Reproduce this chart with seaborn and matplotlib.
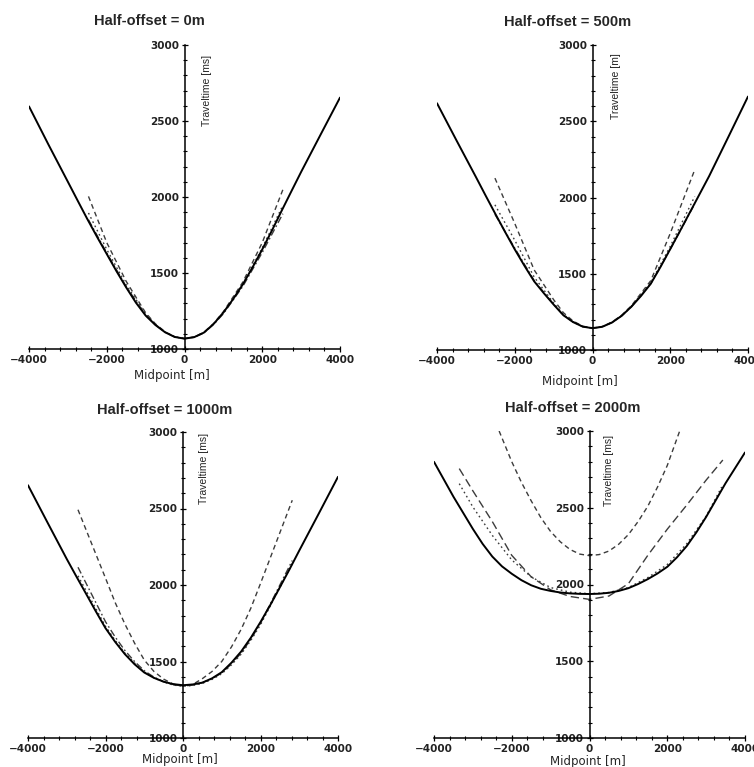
import matplotlib
matplotlib.use('Agg')
import matplotlib.pyplot as plt
import seaborn as sns
from matplotlib.ticker import MultipleLocator

sns.set_theme(style='white')
plt.rcParams['font.family'] = ['DejaVu Sans']

# midpoint positions [m] for the exact traveltime curves
x_exact = [-4000, -3500, -3000, -2750, -2500, -2250, -2000, -1750, -1500, -1250, -1000,
           -750, -500, -250, 0, 250, 500, 750,
           1000, 1250, 1500, 1750, 2000, 2250, 2500, 2750, 3000, 3500, 4000]

# exact traveltimes [ms], one list per half-offset
exact_0 = [2596, 2345, 2100, 1977, 1855, 1738, 1625, 1512, 1405, 1305, 1220,
           1158, 1110, 1079, 1068, 1078, 1108, 1165,
           1240, 1328, 1425, 1537, 1655, 1780, 1910, 2038, 2165, 2410, 2654]
exact_500 = [2618, 2375, 2135, 2013, 1893, 1775, 1660, 1552, 1450, 1372, 1298,
             1228, 1183, 1153, 1143, 1152, 1180, 1224,
             1284, 1355, 1435, 1545, 1662, 1780, 1900, 2020, 2140, 2400, 2662]
exact_1000 = [2652, 2410, 2170, 2055, 1942, 1828, 1718, 1628, 1548, 1482, 1428,
              1393, 1368, 1352, 1345, 1350, 1362, 1390,
              1430, 1492, 1565, 1655, 1758, 1868, 1985, 2103, 2225, 2465, 2707]
exact_2000 = [2799, 2572, 2362, 2265, 2182, 2118, 2070, 2028, 1995, 1972, 1958,
              1948, 1942, 1939, 1938, 1940, 1946, 1958,
              1976, 2003, 2035, 2072, 2115, 2177, 2250, 2340, 2440, 2660, 2860]

# approximations, half-offset 0 m
x_appr_0 = [-2470, -2000, -1500, -1000, -750, -500, -250, 0, 250, 500, 750, 1000, 1500, 2000, 2530]
appr_0_a = [2004, 1700, 1445, 1238, 1166, 1113, 1080, 1069, 1079, 1110, 1168, 1245, 1440, 1700, 2048]
appr_0_b = [1895, 1655, 1422, 1230, 1162, 1112, 1080, 1069, 1078, 1108, 1165, 1238, 1425, 1665, 1945]
appr_0_c = [1850, 1632, 1410, 1224, 1160, 1111, 1079, 1068, 1077, 1106, 1162, 1232, 1412, 1635, 1890]

# approximations, half-offset 500 m
x_appr_500 = [-2510, -2000, -1500, -1000, -750, -500, -250, 0, 250, 500, 750, 1000, 1500, 2000, 2630]
appr_500_a = [2127, 1830, 1525, 1330, 1245, 1190, 1156, 1145, 1154, 1183, 1228, 1290, 1455, 1765, 2182]
appr_500_b = [1952, 1720, 1478, 1308, 1233, 1186, 1154, 1144, 1153, 1181, 1226, 1287, 1442, 1680, 2007]
appr_500_c = [1890, 1668, 1455, 1300, 1229, 1184, 1153, 1143, 1152, 1180, 1224, 1283, 1435, 1660, 1958]

# approximations, half-offset 1000 m
x_appr_1000 = [-2710, -2000, -1750, -1500, -1250, -1000, -750, -500, -250, 0,
               250, 500, 750, 1000, 1250, 1500, 1750, 2000, 2820]
appr_1000_a = [2492, 2045, 1885, 1745, 1620, 1510, 1435, 1385, 1352, 1340,
               1350, 1388, 1435, 1500, 1595, 1710, 1848, 2010, 2554]
appr_1000_b = [2116, 1760, 1660, 1572, 1500, 1440, 1398, 1368, 1348, 1340,
               1346, 1362, 1388, 1425, 1484, 1555, 1645, 1750, 2160]
appr_1000_c = [2060, 1730, 1638, 1555, 1490, 1432, 1394, 1366, 1346, 1338,
               1343, 1357, 1383, 1420, 1478, 1548, 1638, 1740, 2140]

# approximations, half-offset 2000 m
x_appr_2000_a = [-2325, -2000, -1750, -1500, -1250, -1000, -750, -500, -250, 0,
                 250, 500, 750, 1000, 1250, 1500, 1750, 2000, 2320]
appr_2000_a = [3000, 2800, 2665, 2545, 2435, 2345, 2278, 2228, 2198, 2188,
               2195, 2218, 2262, 2325, 2410, 2510, 2635, 2775, 3000]
x_appr_2000_b = [-3350, -3000, -2500, -2000, -1500, -1000, -500, 0, 500, 1000, 1500, 2000, 2500, 3000, 3430]
appr_2000_b = [2755, 2610, 2410, 2190, 2050, 1965, 1922, 1903, 1925, 2005, 2190, 2360, 2517, 2680, 2811]
x_appr_2000_c = [-3350, -3000, -2500, -2000, -1500, -1000, -500, 0, 500, 1000, 1500, 2000, 2500, 3000, 3400]
appr_2000_c = [2657, 2505, 2320, 2160, 2050, 1980, 1950, 1940, 1948, 1980, 2045, 2130, 2265, 2445, 2635]

W, H = 754, 767
fig = plt.figure(figsize=(W / 100, H / 100), dpi=100)

GREY = '#3c3c3c'
SHORT = (0, (3.5, 2.5))
DOT = (0, (1.2, 2.2))
DASHDOT = (0, (5, 2, 1.2, 2))
LONG = (0, (6, 3))

panels = [
    dict(box=(29, 340, 45, 349), title='Half-offset = 0m', title_xy=(149, 21),
         ylab='Traveltime [ms]', ylab_xy=(584, 2935), xlab_xy=(172, 375),
         exact=exact_0,
         appr=[(x_appr_0, appr_0_a, SHORT), (x_appr_0, appr_0_b, DOT), (x_appr_0, appr_0_c, DASHDOT)]),
    dict(box=(437, 748, 45, 350), title='Half-offset = 500m', title_xy=(568, 22),
         ylab='Traveltime [m]', ylab_xy=(617, 2944), xlab_xy=(580, 382),
         exact=exact_500,
         appr=[(x_appr_500, appr_500_a, SHORT), (x_appr_500, appr_500_b, DOT), (x_appr_500, appr_500_c, DASHDOT)]),
    dict(box=(28, 338, 432, 738), title='Half-offset = 1000m', title_xy=(165, 410),
         ylab='Traveltime [ms]', ylab_xy=(540, 2993), xlab_xy=(180, 760),
         exact=exact_1000,
         appr=[(x_appr_1000, appr_1000_a, SHORT), (x_appr_1000, appr_1000_b, DASHDOT), (x_appr_1000, appr_1000_c, DOT)]),
    dict(box=(434, 745, 431, 738), title='Half-offset = 2000m', title_xy=(573, 408),
         ylab='Traveltime [ms]', ylab_xy=(490, 2977), xlab_xy=(588, 762),
         exact=exact_2000,
         appr=[(x_appr_2000_a, appr_2000_a, SHORT), (x_appr_2000_b, appr_2000_b, LONG), (x_appr_2000_c, appr_2000_c, DOT)]),
]

for p in panels:
    l, r, t, b = p['box']
    ax = fig.add_axes([l / W, 1 - b / H, (r - l) / W, (b - t) / H])
    ax.set_facecolor('none')

    for xs, ys, ls in p['appr']:
        sns.lineplot(x=xs, y=ys, ax=ax, color=GREY, linewidth=1.0, linestyle=ls,
                     estimator=None, sort=False)
    sns.lineplot(x=x_exact, y=p['exact'], ax=ax, color='black', linewidth=1.4,
                 estimator=None, sort=False)

    ax.set_xlim(-4000, 4000)
    ax.set_ylim(1000, 3000)
    ax.spines['left'].set_position(('data', 0))
    ax.spines['top'].set_visible(False)
    ax.spines['right'].set_visible(False)
    for s in ('left', 'bottom'):
        ax.spines[s].set_color('black')
        ax.spines[s].set_linewidth(1.1)

    ax.xaxis.set_major_locator(MultipleLocator(2000))
    ax.xaxis.set_minor_locator(MultipleLocator(400))
    ax.yaxis.set_major_locator(MultipleLocator(500))
    ax.yaxis.set_minor_locator(MultipleLocator(100))
    ax.tick_params(which='major', direction='inout', length=5, width=0.9, color='black',
                   labelsize=7.5, labelcolor='#222222')
    ax.tick_params(which='minor', direction='inout', length=3, width=0.8, color='black')
    ax.tick_params(axis='x', which='both', bottom=True, pad=2)
    ax.tick_params(axis='y', which='both', left=True, pad=1.5)
    for lab in ax.get_xticklabels() + ax.get_yticklabels():
        lab.set_fontweight('bold')
        lab.set_family('DejaVu Sans')
    ax.set_xlabel('')
    ax.set_ylabel('')
    ax.grid(False)

    ax.text(p['ylab_xy'][0], p['ylab_xy'][1], p['ylab'], rotation=90, ha='center', va='top',
            fontsize=7.5, family=['Liberation Sans Narrow', 'Liberation Sans'])

    tx, ty = p['title_xy']
    fig.text(tx / W, 1 - ty / H, p['title'], ha='center', va='center', fontsize=10.5,
             fontweight='bold', family=['Liberation Sans', 'DejaVu Sans'])
    mx, my = p['xlab_xy']
    fig.text(mx / W, 1 - my / H, 'Midpoint [m]', ha='center', va='center', fontsize=8.5)

fig.savefig('out.png', dpi=100)
